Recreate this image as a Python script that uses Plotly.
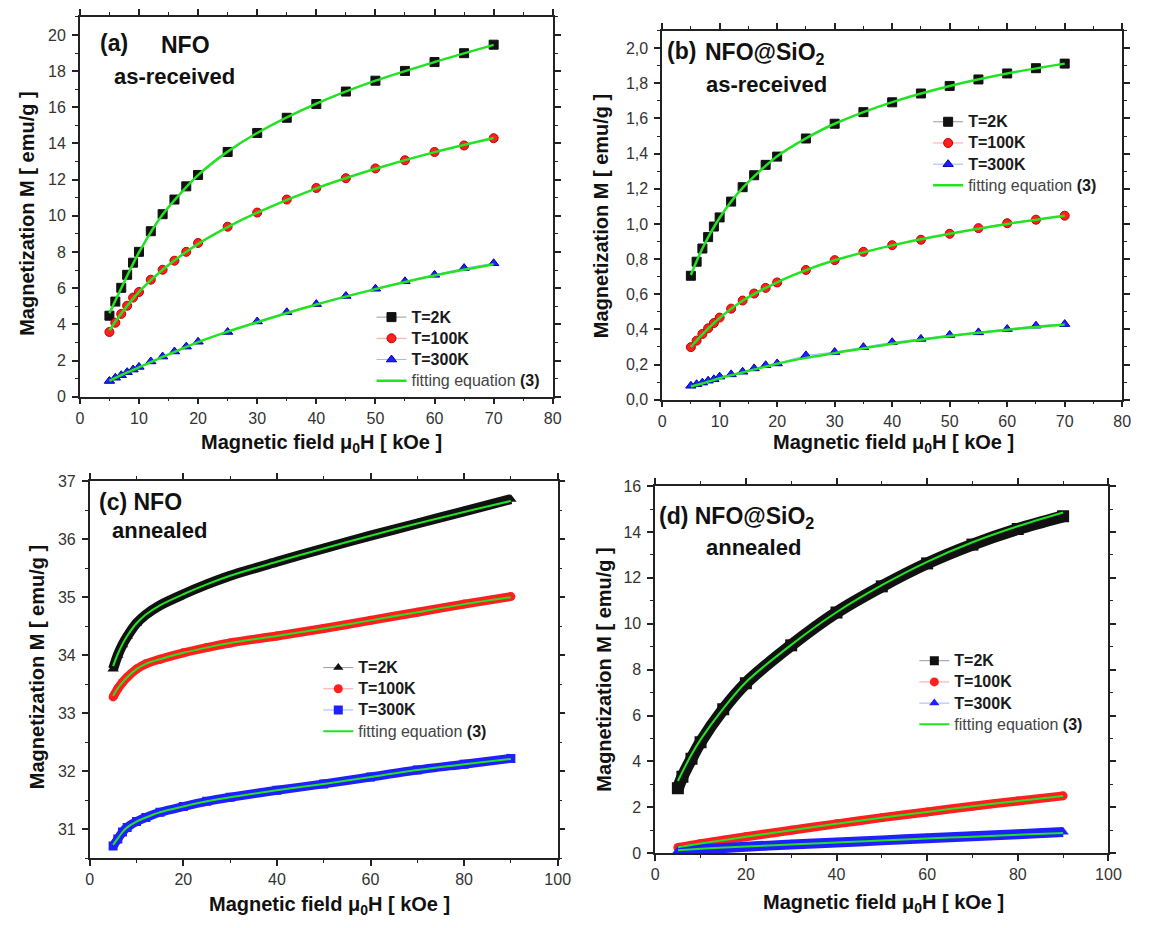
import plotly.graph_objects as go

FONT = "Liberation Sans, Arial, sans-serif"
W, H = 1150, 928

# ---------------- (a) NFO as-received ----------------
field_a = [5, 6, 7, 8, 9, 10, 12, 14, 16, 18, 20, 25, 30, 35, 40, 45, 50, 55, 60, 65, 70]
m_a_2K = [4.48, 5.26, 6.02, 6.74, 7.41, 8.01, 9.15, 10.09, 10.90, 11.63, 12.26, 13.53,
          14.58, 15.42, 16.18, 16.87, 17.47, 18.01, 18.50, 18.99, 19.46]
m_a_100K = [3.58, 4.09, 4.58, 5.03, 5.48, 5.79, 6.47, 7.02, 7.52, 8.01, 8.50, 9.40,
            10.18, 10.90, 11.54, 12.08, 12.62, 13.07, 13.53, 13.89, 14.29]
m_a_300K = [0.87, 1.05, 1.19, 1.36, 1.50, 1.65, 1.95, 2.22, 2.50, 2.77, 3.04, 3.58,
            4.16, 4.67, 5.12, 5.57, 5.97, 6.38, 6.74, 7.11, 7.38]
fit_field_a = [5, 7, 10, 14, 20, 25, 30, 40, 50, 60, 70]
fit_a_2K = [4.62, 6.00, 7.98, 10.08, 12.25, 13.55, 14.58, 16.20, 17.47, 18.50, 19.45]
fit_a_100K = [3.68, 4.60, 5.80, 7.02, 8.45, 9.38, 10.18, 11.52, 12.60, 13.52, 14.30]
fit_a_300K = [0.88, 1.20, 1.62, 2.20, 3.02, 3.60, 4.12, 5.10, 5.95, 6.70, 7.32]

# ---------------- (b) NFO@SiO2 as-received ----------------
field_b = [5, 6, 7, 8, 9, 10, 12, 14, 16, 18, 20, 25, 30, 35, 40, 45, 50, 55, 60, 65, 70]
m_b_2K = [0.705, 0.785, 0.860, 0.925, 0.985, 1.037, 1.127, 1.209, 1.277, 1.336, 1.383, 1.486,
          1.570, 1.636, 1.692, 1.742, 1.785, 1.822, 1.856, 1.886, 1.912]
m_b_100K = [0.299, 0.336, 0.374, 0.406, 0.436, 0.467, 0.518, 0.564, 0.604, 0.636, 0.667, 0.738,
            0.794, 0.841, 0.879, 0.910, 0.944, 0.976, 1.004, 1.024, 1.047]
m_b_300K = [0.079, 0.088, 0.097, 0.108, 0.116, 0.131, 0.144, 0.159, 0.178, 0.196, 0.206, 0.252,
            0.271, 0.299, 0.327, 0.346, 0.368, 0.383, 0.402, 0.421, 0.430]
fit_field_b = [5, 7, 10, 14, 20, 25, 30, 40, 50, 60, 70]
fit_b_2K = [0.710, 0.860, 1.035, 1.205, 1.385, 1.487, 1.570, 1.693, 1.785, 1.856, 1.912]
fit_b_100K = [0.300, 0.372, 0.465, 0.563, 0.668, 0.737, 0.793, 0.878, 0.944, 1.000, 1.047]
fit_b_300K = [0.075, 0.092, 0.122, 0.155, 0.205, 0.238, 0.265, 0.318, 0.362, 0.398, 0.428]
ticks_b = [0.0, 0.2, 0.4, 0.6, 0.8, 1.0, 1.2, 1.4, 1.6, 1.8, 2.0]
ticklabels_b = ["0,0", "0,2", "0,4", "0,6", "0,8", "1,0", "1,2", "1,4", "1,6", "1,8", "2,0"]

# ---------------- (c) NFO annealed ----------------
field_c = [5, 6, 7, 8, 10, 12, 15, 20, 25, 30, 40, 50, 60, 70, 80, 90]
m_c_2K = [33.76, 34.00, 34.18, 34.32, 34.55, 34.70, 34.86, 35.05, 35.22, 35.37,
          35.61, 35.84, 36.06, 36.27, 36.48, 36.69]
m_c_100K = [33.28, 33.42, 33.53, 33.62, 33.76, 33.85, 33.93, 34.04, 34.13, 34.21,
            34.33, 34.46, 34.60, 34.74, 34.88, 35.01]
m_c_300K = [30.71, 30.83, 30.95, 31.03, 31.13, 31.20, 31.29, 31.39, 31.48, 31.55,
            31.67, 31.78, 31.90, 32.02, 32.12, 32.22]
fit_c_2K = [33.81, 34.02, 34.19, 34.33, 34.55, 34.70, 34.86, 35.05, 35.22, 35.37,
            35.61, 35.84, 36.06, 36.27, 36.47, 36.66]
fit_c_100K = [33.30, 33.43, 33.53, 33.62, 33.76, 33.85, 33.93, 34.04, 34.13, 34.21,
              34.33, 34.46, 34.60, 34.74, 34.88, 35.00]
fit_c_300K = [30.73, 30.84, 30.95, 31.03, 31.13, 31.20, 31.29, 31.39, 31.48, 31.55,
              31.67, 31.78, 31.90, 32.02, 32.12, 32.21]

# ---------------- (d) NFO@SiO2 annealed ----------------
field_d_2K = [5, 6, 8, 10, 15, 20, 30, 40, 50, 60, 70, 80, 90]
m_d_2K = [2.83, 3.33, 4.12, 4.84, 6.27, 7.41, 9.06, 10.49, 11.63, 12.63, 13.45, 14.13, 14.68]
fit_d_2K = [3.15, 3.55, 4.30, 4.95, 6.30, 7.45, 9.08, 10.50, 11.68, 12.70, 13.55, 14.25, 14.85]
field_d = [5, 10, 20, 30, 40, 50, 60, 70, 80, 90]
m_d_100K = [0.25, 0.42, 0.72, 1.00, 1.28, 1.55, 1.80, 2.05, 2.28, 2.50]
fit_d_100K = [0.26, 0.42, 0.72, 1.00, 1.28, 1.55, 1.80, 2.05, 2.28, 2.49]
m_d_300K = [0.10, 0.17, 0.28, 0.38, 0.47, 0.56, 0.65, 0.74, 0.83, 0.92]
fit_d_300K = [0.13, 0.19, 0.29, 0.38, 0.47, 0.56, 0.64, 0.72, 0.80, 0.88]

GREEN = "#22e322"
BLACK = "#111111"
RED = "#ff1f1f"
BLUE = "#1f1fff"
LINE_GRAY = "#9a9a9a"
LINE_PINK = "#ffa3a3"
LINE_LBLUE = "#9fb8ff"


def px(x):
    return x / W


def py(y):
    return 1 - y / H


def lname(text):
    return '<span style="font-size:16px">' + text + '</span>'


NAME_2K = lname("<b>T=2K</b>")
NAME_100K = lname("<b>T=100K</b>")
NAME_300K = lname("<b>T=300K</b>")
NAME_FIT = lname('<span style="color:#444">fitting equation</span> <b>(3)</b>')

fig = go.Figure()


def add_points(xs, ys, sym, color, edge, lcolor, name, ax, leg):
    fig.add_trace(go.Scatter(
        x=xs, y=ys, mode="lines+markers", name=name,
        line=dict(color=lcolor, width=1),
        marker=dict(symbol=sym, size=9, color=color, line=dict(color=edge, width=1)),
        xaxis="x" + ax, yaxis="y" + ax, legend=leg))


def add_fit(xs, ys, ax, leg, show, width=2.5):
    fig.add_trace(go.Scatter(
        x=xs, y=ys, mode="lines", name=NAME_FIT, showlegend=show,
        line=dict(color=GREEN, width=width, shape="spline", smoothing=0.8),
        xaxis="x" + ax, yaxis="y" + ax, legend=leg))


def add_band(xs, ys, sym, color, ax, width=9):
    fig.add_trace(go.Scatter(
        x=xs, y=ys, mode="lines+markers", showlegend=False,
        line=dict(color=color, width=width, shape="spline", smoothing=0.8),
        marker=dict(symbol=sym, size=width, color=color),
        xaxis="x" + ax, yaxis="y" + ax))


def add_key(sym, color, lcolor, name, ax, leg):
    fig.add_trace(go.Scatter(
        x=[None], y=[None], mode="lines+markers", name=name,
        line=dict(color=lcolor, width=1),
        marker=dict(symbol=sym, size=9, color=color),
        xaxis="x" + ax, yaxis="y" + ax, legend=leg))


# (a)
add_points(field_a, m_a_2K, "square", BLACK, BLACK, LINE_GRAY, NAME_2K, "", "legend")
add_points(field_a, m_a_100K, "circle", RED, "#c00000", LINE_PINK, NAME_100K, "", "legend")
add_points(field_a, m_a_300K, "triangle-up", BLUE, "#0000b0", LINE_LBLUE, NAME_300K, "", "legend")
add_fit(fit_field_a, fit_a_2K, "", "legend", True)
add_fit(fit_field_a, fit_a_100K, "", "legend", False)
add_fit(fit_field_a, fit_a_300K, "", "legend", False)

# (b)
add_points(field_b, m_b_2K, "square", BLACK, BLACK, LINE_GRAY, NAME_2K, "2", "legend2")
add_points(field_b, m_b_100K, "circle", RED, "#c00000", LINE_PINK, NAME_100K, "2", "legend2")
add_points(field_b, m_b_300K, "triangle-up", BLUE, "#0000b0", LINE_LBLUE, NAME_300K, "2", "legend2")
add_fit(fit_field_b, fit_b_2K, "2", "legend2", True)
add_fit(fit_field_b, fit_b_100K, "2", "legend2", False)
add_fit(fit_field_b, fit_b_300K, "2", "legend2", False)

# (c)
add_band(field_c, m_c_2K, "triangle-up", BLACK, "3", 10)
add_band(field_c, m_c_100K, "circle", RED, "3", 9)
add_band(field_c, m_c_300K, "square", BLUE, "3", 9)
add_key("triangle-up", BLACK, LINE_GRAY, NAME_2K, "3", "legend3")
add_key("circle", RED, LINE_PINK, NAME_100K, "3", "legend3")
add_key("square", BLUE, LINE_LBLUE, NAME_300K, "3", "legend3")
add_fit(field_c, fit_c_2K, "3", "legend3", True, 2)
add_fit(field_c, fit_c_100K, "3", "legend3", False, 2)
add_fit(field_c, fit_c_300K, "3", "legend3", False, 2)

# (d)
add_band(field_d_2K, m_d_2K, "square", BLACK, "4", 12)
add_band(field_d, m_d_100K, "circle", RED, "4", 9)
add_band(field_d, m_d_300K, "triangle-up", BLUE, "4", 10)
add_key("square", BLACK, LINE_GRAY, NAME_2K, "4", "legend4")
add_key("circle", RED, LINE_PINK, NAME_100K, "4", "legend4")
add_key("triangle-up", BLUE, LINE_LBLUE, NAME_300K, "4", "legend4")
add_fit(field_d_2K, fit_d_2K, "4", "legend4", True, 2)
add_fit(field_d, fit_d_100K, "4", "legend4", False, 2)
add_fit(field_d, fit_d_300K, "4", "legend4", False, 2)


def axis(rng, dtick, minor, domain, anchor, **kw):
    d = dict(
        range=rng, domain=domain, anchor=anchor, tick0=0, dtick=dtick,
        ticks="outside", ticklen=6, tickwidth=1.5, tickcolor="#222",
        showline=True, linecolor="#222", linewidth=1.5, mirror="ticks",
        showgrid=False, zeroline=False, ticklabelstandoff=0,
        tickfont=dict(family=FONT, size=16, color="#333"),
        minor=dict(tick0=0, dtick=minor, ticks="outside", ticklen=3,
                   tickwidth=1.2, tickcolor="#222", showgrid=False),
    )
    d.update(kw)
    return d


layout = dict(
    width=W, height=H, margin=dict(l=0, r=0, t=0, b=0),
    paper_bgcolor="white", plot_bgcolor="white",
    font=dict(family=FONT, color="#1a1a1a"),
    xaxis=axis([0, 80], 10, 5, [px(77), px(557)], "y"),
    yaxis=axis([0, 21], 2, 1, [py(396), py(9)], "x", ticklabelstandoff=3),
    xaxis2=axis([0, 80], 10, 5, [px(668), px(1135)], "y2"),
    yaxis2=axis([0, 2.1], None, 0.1, [py(399), py(23)], "x2", ticklabelstandoff=3,
                tickmode="array", tickvals=ticks_b, ticktext=ticklabels_b),
    xaxis3=axis([0, 100], 20, 10, [px(87), px(562)], "y3"),
    yaxis3=axis([30.5, 37], 1, 0.5, [py(866), py(482)], "x3", tick0=31, ticklabelstandoff=3),
    xaxis4=axis([0, 100], 20, 10, [px(661), px(1121)], "y4"),
    yaxis4=axis([0, 16], 2, 1, [py(861), py(487)], "x4", ticklabelstandoff=3),
)
layout["yaxis2"].pop("dtick")


def legend(x, y):
    return dict(x=px(x), y=py(y), xanchor="left", yanchor="top",
                bgcolor="rgba(0,0,0,0)", borderwidth=0,
                font=dict(family=FONT, size=14, color="#1a1a1a"), tracegroupgap=0)


layout["legend"] = legend(373, 299)
layout["legend2"] = legend(938, 100)
layout["legend3"] = legend(319, 656)
layout["legend4"] = legend(924, 649)

annotations = []


def label(text, x, y, size, anchor="left", angle=0):
    annotations.append(dict(
        text=text, x=px(x), y=py(y), xref="paper", yref="paper",
        xanchor=anchor, yanchor="middle", showarrow=False, textangle=angle,
        font=dict(family=FONT, size=size, color="#111")))


# panel labels
label("<b>(a)</b>", 95, 36, 23)
label("<b>NFO</b>", 157, 38, 23)
label("<b>as-received</b>", 110, 70, 22)
label("<b>(b)</b>", 671, 44, 23)
label("<b>NFO@SiO<sub>2</sub></b>", 709, 46, 23)
label("<b>as-received</b>", 710, 78, 22)
label("<b>(c) NFO</b>", 94, 503, 23)
label("<b>annealed</b>", 108, 532, 22)
label("<b>(d) NFO@SiO<sub>2</sub></b>", 663, 519, 23)
label("<b>annealed</b>", 710, 550, 22)

# axis titles
XT = "<b>Magnetic field \u03bc<sub>0</sub>H [ kOe ]</b>"
YT = "<b>Magnetization M [ emu/g ]</b>"
label(XT, 322, 444, 20, "center")
label(XT, 903, 444, 20, "center")
label(XT, 330, 914, 20, "center")
label(XT, 893, 912, 20, "center")
label(YT, 23, 210, 20, "center", -90)
label(YT, 606, 212, 20, "center", -90)
label(YT, 33, 672, 20, "center", -90)
label(YT, 609, 674, 20, "center", -90)

layout["annotations"] = annotations
fig.update_layout(**layout)
fig.write_html("out.html")
